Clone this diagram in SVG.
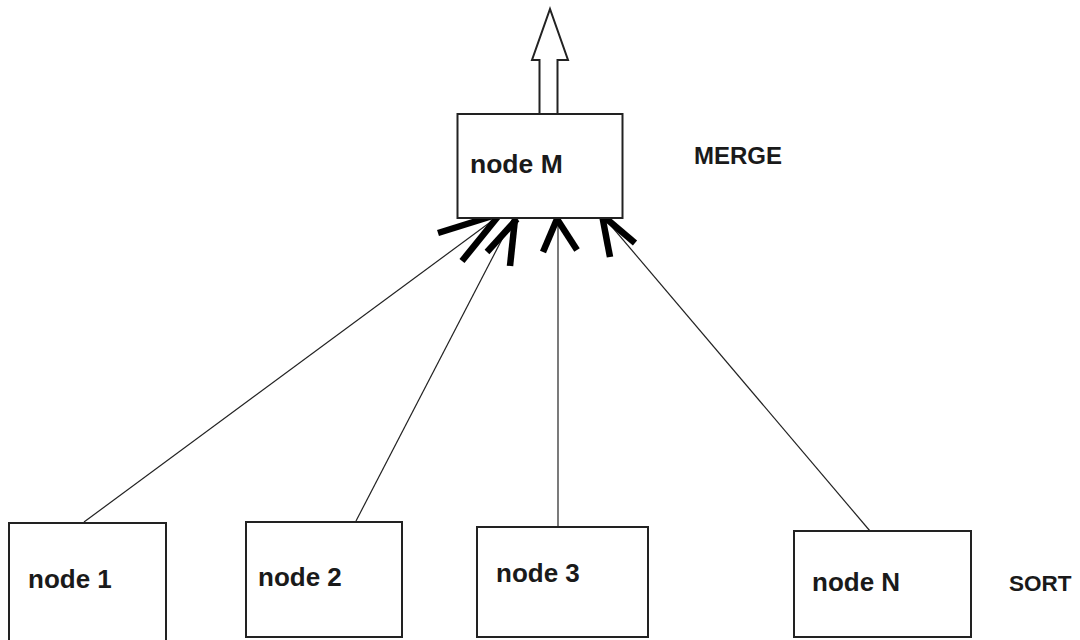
<svg xmlns="http://www.w3.org/2000/svg" width="1080" height="640" viewBox="0 0 1080 640">
<style>
.box{fill:#fff;stroke:#222;stroke-width:2}
.lbl{font-family:"Liberation Sans",Arial,sans-serif;font-weight:bold;fill:#1a1a1a}
.thin{stroke:#222;stroke-width:1.2;fill:none}
.head{stroke:#000;stroke-width:6.5;stroke-linecap:butt;fill:none}
</style>
<rect width="1080" height="640" fill="#fff"/>
<g id="connectors">
<line class="thin" x1="84" y1="522" x2="500" y2="215"/>
<line class="thin" x1="356" y1="521" x2="512" y2="220"/>
<line class="thin" x1="558" y1="527" x2="558" y2="218"/>
<line class="thin" x1="870" y1="531" x2="602" y2="215"/>
<line class="head" x1="438" y1="233" x2="502" y2="213"/>
<line class="head" x1="462" y1="261" x2="500" y2="214"/>
<line class="head" x1="487" y1="252" x2="517" y2="219"/>
<line class="head" x1="510" y1="266" x2="515" y2="219"/>
<line class="head" x1="543" y1="252" x2="557" y2="219"/>
<line class="head" x1="577" y1="250" x2="557" y2="219"/>
<line class="head" x1="610" y1="257" x2="602" y2="215"/>
<line class="head" x1="635" y1="243" x2="602" y2="215"/>
<polygon id="output-arrow" points="539.5,114 539.5,60 532,60 550,9 568,60 557.5,60 557.5,114" fill="#fff" stroke="#222" stroke-width="2"/>
</g>
<g id="nodeM">
<rect class="box" x="457.5" y="114" width="165" height="104"/>
<text class="lbl" x="470" y="173" font-size="26.5">node M</text>
</g>
<g id="node1">
<rect class="box" x="9" y="523" width="157" height="120"/>
<text class="lbl" x="28" y="588" font-size="26">node 1</text>
</g>
<g id="node2">
<rect class="box" x="246" y="522" width="156" height="115"/>
<text class="lbl" x="258" y="586" font-size="26">node 2</text>
</g>
<g id="node3">
<rect class="box" x="477" y="527" width="171" height="110"/>
<text class="lbl" x="496" y="582" font-size="26">node 3</text>
</g>
<g id="nodeN">
<rect class="box" x="794" y="531" width="177" height="106"/>
<text class="lbl" x="812" y="591" font-size="26">node N</text>
</g>
<g id="labels">
<text class="lbl" x="694" y="164" font-size="24">MERGE</text>
<text class="lbl" x="1009" y="591" font-size="22.5">SORT</text>
</g>
</svg>
